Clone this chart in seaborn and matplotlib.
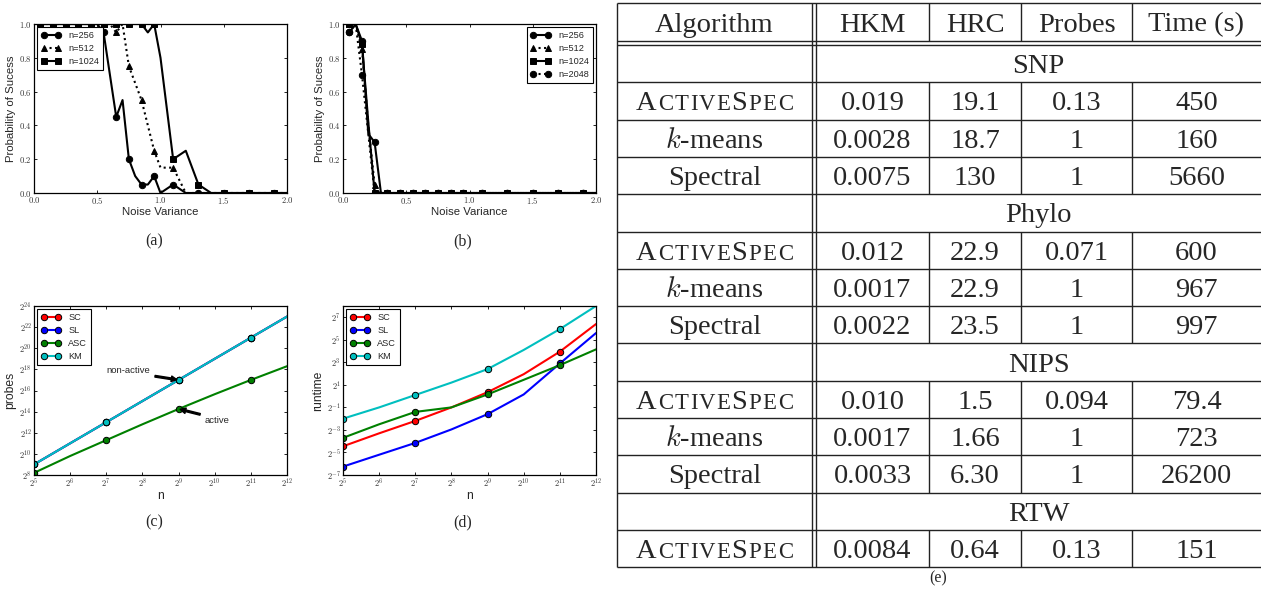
import matplotlib
matplotlib.use("Agg")
import matplotlib.pyplot as plt
from matplotlib.ticker import NullLocator
import seaborn as sns

# -----------------------
# Data: panels (a) and (b), probability of success vs noise variance
# -----------------------
noise_var = [0.05, 0.10, 0.15, 0.20, 0.25, 0.30, 0.35, 0.40, 0.45, 0.50,
             0.55, 0.60, 0.65, 0.70, 0.75, 0.80, 0.85, 0.90, 0.95, 1.00,
             1.1, 1.2, 1.3, 1.4, 1.5, 1.6, 1.7, 1.8, 1.9, 2.0]

a_n256 = [1.0, 1.0, 1.0, 1.0, 1.0, 1.0, 1.0, 1.0, 1.0, 1.0,
          0.95, 0.70, 0.45, 0.55, 0.20, 0.10, 0.05, 0.05, 0.10, 0.0,
          0.05, 0.0, 0.0, 0.0, 0.0, 0.0, 0.0, 0.0, 0.0, 0.0]
a_n512 = [1.0, 1.0, 1.0, 1.0, 1.0, 1.0, 1.0, 1.0, 1.0, 1.0,
          1.0, 1.0, 0.95, 1.0, 0.75, 0.65, 0.55, 0.40, 0.25, 0.15,
          0.15, 0.0, 0.0, 0.0, 0.0, 0.0, 0.0, 0.0, 0.0, 0.0]
a_n1024 = [1.0, 1.0, 1.0, 1.0, 1.0, 1.0, 1.0, 1.0, 1.0, 1.0,
           1.0, 1.0, 1.0, 1.0, 1.0, 1.0, 1.0, 0.95, 1.0, 0.80,
           0.20, 0.25, 0.05, 0.0, 0.0, 0.0, 0.0, 0.0, 0.0, 0.0]

b_n256 = [0.95, 1.0, 0.90, 0.35, 0.30, 0.0, 0.0, 0.0, 0.0, 0.0,
          0.0, 0.0, 0.0, 0.0, 0.0, 0.0, 0.0, 0.0, 0.0, 0.0,
          0.0, 0.0, 0.0, 0.0, 0.0, 0.0, 0.0, 0.0, 0.0, 0.0]
b_n512 = [1.0, 1.0, 0.85, 0.40, 0.05, 0.0, 0.0, 0.0, 0.0, 0.0,
          0.0, 0.0, 0.0, 0.0, 0.0, 0.0, 0.0, 0.0, 0.0, 0.0,
          0.0, 0.0, 0.0, 0.0, 0.0, 0.0, 0.0, 0.0, 0.0, 0.0]
b_n1024 = [1.0, 1.0, 0.88, 0.42, 0.0, 0.0, 0.0, 0.0, 0.0, 0.0,
           0.0, 0.0, 0.0, 0.0, 0.0, 0.0, 0.0, 0.0, 0.0, 0.0,
           0.0, 0.0, 0.0, 0.0, 0.0, 0.0, 0.0, 0.0, 0.0, 0.0]
b_n2048 = [0.95, 1.0, 0.70, 0.35, 0.0, 0.0, 0.0, 0.0, 0.0, 0.0,
           0.0, 0.0, 0.0, 0.0, 0.0, 0.0, 0.0, 0.0, 0.0, 0.0,
           0.0, 0.0, 0.0, 0.0, 0.0, 0.0, 0.0, 0.0, 0.0, 0.0]

# -----------------------
# Data: panels (c) and (d), probes / runtime vs n
# -----------------------
n_sizes = [32, 64, 128, 256, 512, 1024, 2048, 4096]

probes_sc = [512, 2048, 8192, 32768, 131072, 524288, 2097152, 8388608]
probes_sl = [512, 2048, 8192, 32768, 131072, 524288, 2097152, 8388608]
probes_asc = [294, 891, 2521, 7132, 19484, 51403, 131072, 322639]
probes_km = [512, 2048, 8192, 32768, 131072, 524288, 2097152, 8388608]

runtime_sc = [0.0457, 0.1015, 0.2176, 0.50, 1.274, 3.86, 15.45, 84.4]
runtime_sl = [0.0131, 0.0272, 0.0563, 0.129, 0.330, 1.11, 7.46, 48.5]
runtime_asc = [0.0769, 0.177, 0.379, 0.50, 1.11, 2.73, 6.73, 17.75]
runtime_km = [0.25, 0.50, 1.072, 2.30, 5.28, 17.15, 61.8, 256.0]

# -----------------------
# Data: table (e)
# -----------------------
table_cols = ["Algorithm", "HKM", "HRC", "Probes", "Time (s)"]
datasets = ["SNP", "Phylo", "NIPS", "RTW"]
row_dataset = ["SNP", "SNP", "SNP", "Phylo", "Phylo", "Phylo",
               "NIPS", "NIPS", "NIPS", "RTW"]
row_algo = ["ActiveSpec", "k-means", "Spectral", "ActiveSpec", "k-means", "Spectral",
            "ActiveSpec", "k-means", "Spectral", "ActiveSpec"]
row_hkm = ["0.019", "0.0028", "0.0075", "0.012", "0.0017", "0.0022",
           "0.010", "0.0017", "0.0033", "0.0084"]
row_hrc = ["19.1", "18.7", "130", "22.9", "22.9", "23.5", "1.5", "1.66", "6.30", "0.64"]
row_probes = ["0.13", "1", "1", "0.071", "1", "1", "0.094", "1", "1", "0.13"]
row_time = ["450", "160", "5660", "600", "967", "997", "79.4", "723", "26200", "151"]

# -----------------------
# Style
# -----------------------
sns.set_style("ticks")
plt.rcParams.update({
    "font.family": ["Liberation Sans", "DejaVu Sans"],
    "mathtext.fontset": "cm",
    "axes.linewidth": 0.9,
    "axes.edgecolor": "black",
    "xtick.direction": "in",
    "ytick.direction": "in",
    "xtick.top": True,
    "ytick.right": True,
    "xtick.major.size": 2.5,
    "ytick.major.size": 2.5,
    "xtick.major.width": 0.6,
    "ytick.major.width": 0.6,
    "xtick.color": "black",
    "ytick.color": "black",
    "xtick.labelcolor": "#333333",
    "ytick.labelcolor": "#333333",
})

W, H = 1261, 590
fig = plt.figure(figsize=(W / 100, H / 100), dpi=100)


def px_axes(left, top, right, bottom):
    return fig.add_axes([left / W, 1 - bottom / H, (right - left) / W, (bottom - top) / H])


ax_a = px_axes(34, 24, 287, 193)
ax_b = px_axes(343, 24, 596, 193)
ax_c = px_axes(34, 306, 287, 475)
ax_d = px_axes(343, 306, 596, 475)

LABEL_FS = 8.2
TICK_FS = 6.2
LEG_FS = 6.6


def draw_line(ax, x, y, label, color, ls, mk, ms):
    sns.lineplot(x=x, y=y, ax=ax, color=color, linestyle=ls, marker=mk,
                 markersize=ms, markevery=2, markeredgecolor="black",
                 markeredgewidth=0.7, linewidth=1.5, label=label,
                 errorbar=None, sort=False)


def make_legend(ax, loc):
    leg = ax.legend(loc=loc, numpoints=2, fontsize=LEG_FS, fancybox=False,
                    edgecolor="black", framealpha=1, handlelength=2.2,
                    borderpad=0.4, labelspacing=0.45, handletextpad=0.8,
                    borderaxespad=0.35)
    leg.get_frame().set_linewidth(0.8)


def noise_axes(ax):
    ax.set_xlim(0, 2.0)
    ax.set_ylim(0, 1.0)
    xt = [0.0, 0.5, 1.0, 1.5, 2.0]
    yt = [0.0, 0.2, 0.4, 0.6, 0.8, 1.0]
    ax.set_xticks(xt)
    ax.set_xticklabels([f"${v:.1f}$" for v in xt], fontsize=TICK_FS)
    ax.set_yticks(yt)
    ax.set_yticklabels([f"${v:.1f}$" for v in yt], fontsize=TICK_FS)
    ax.tick_params(pad=1.5)
    ax.set_xlabel("Noise Variance", fontsize=LABEL_FS, labelpad=1)
    ax.set_ylabel("Probability of Sucess", fontsize=LABEL_FS, labelpad=2)


# (a)
draw_line(ax_a, noise_var, a_n256, "n=256", "black", "-", "o", 4.6)
draw_line(ax_a, noise_var, a_n512, "n=512", "black", ":", "^", 4.8)
draw_line(ax_a, noise_var, a_n1024, "n=1024", "black", "-", "s", 4.6)
noise_axes(ax_a)
make_legend(ax_a, "upper left")

# (b)
draw_line(ax_b, noise_var, b_n256, "n=256", "black", "-", "o", 4.6)
draw_line(ax_b, noise_var, b_n512, "n=512", "black", ":", "^", 4.8)
draw_line(ax_b, noise_var, b_n1024, "n=1024", "black", "-", "s", 4.6)
draw_line(ax_b, noise_var, b_n2048, "n=2048", "black", ":", "o", 4.6)
noise_axes(ax_b)
make_legend(ax_b, "upper right")


def size_axes(ax, ylabel, ylo, yhi, ystep):
    ax.set_xscale("log", base=2)
    ax.set_yscale("log", base=2)
    ax.set_xlim(2 ** 5, 2 ** 12)
    ax.set_ylim(2.0 ** ylo, 2.0 ** yhi)
    xk = list(range(5, 13))
    yk = list(range(ylo, yhi + 1, ystep))
    ax.set_xticks([2 ** k for k in xk])
    ax.set_xticklabels([f"$2^{{{k}}}$" for k in xk], fontsize=TICK_FS)
    ax.set_yticks([2.0 ** k for k in yk])
    ax.set_yticklabels([f"$2^{{{k}}}$" for k in yk], fontsize=TICK_FS)
    ax.xaxis.set_minor_locator(NullLocator())
    ax.yaxis.set_minor_locator(NullLocator())
    ax.tick_params(pad=1.5)
    ax.set_xlabel("n", fontsize=LABEL_FS + 0.5, labelpad=0)
    ax.set_ylabel(ylabel, fontsize=LABEL_FS + 0.5, labelpad=2)


colors = {"SC": "#ff0000", "SL": "#0000ff", "ASC": "#008000", "KM": "#00bfbf"}

# (c)
draw_line(ax_c, n_sizes, probes_sc, "SC", colors["SC"], "-", "o", 4.6)
draw_line(ax_c, n_sizes, probes_sl, "SL", colors["SL"], "-", "o", 4.6)
draw_line(ax_c, n_sizes, probes_asc, "ASC", colors["ASC"], "-", "o", 4.6)
draw_line(ax_c, n_sizes, probes_km, "KM", colors["KM"], "-", "o", 4.6)
size_axes(ax_c, "probes", 8, 24, 2)
make_legend(ax_c, "upper left")
arrow = dict(facecolor="black", edgecolor="black", width=1.2, headwidth=4,
             headlength=4, shrink=0.06)
ax_c.annotate("non-active", xy=(2 ** 9, probes_km[4]), xytext=(2 ** 7.0, 2 ** 17.85),
              fontsize=6.8, va="center", arrowprops=arrow)
ax_c.annotate("active", xy=(2 ** 9, probes_asc[4]), xytext=(2 ** 9.73, 2 ** 13.2),
              fontsize=6.8, va="center", arrowprops=arrow)

# (d)
draw_line(ax_d, n_sizes, runtime_sc, "SC", colors["SC"], "-", "o", 4.6)
draw_line(ax_d, n_sizes, runtime_sl, "SL", colors["SL"], "-", "o", 4.6)
draw_line(ax_d, n_sizes, runtime_asc, "ASC", colors["ASC"], "-", "o", 4.6)
draw_line(ax_d, n_sizes, runtime_km, "KM", colors["KM"], "-", "o", 4.6)
size_axes(ax_d, "runtime", -7, 8, 2)
ax_d.set_yticks([2.0 ** k for k in range(-7, 8, 2)])
ax_d.set_yticklabels([f"$2^{{{k}}}$" for k in range(-7, 8, 2)], fontsize=TICK_FS)
ax_d.yaxis.set_minor_locator(NullLocator())
make_legend(ax_d, "upper left")

# -----------------------
# Overlay in pixel coordinates: captions and table (e)
# -----------------------
ax_t = fig.add_axes([0, 0, 1, 1])
ax_t.set_xlim(0, W)
ax_t.set_ylim(H, 0)
ax_t.axis("off")

SERIF = ["Liberation Serif", "DejaVu Serif"]
for cap, (cx, cy) in zip(["(a)", "(b)", "(c)", "(d)", "(e)"],
                         [(154, 241), (463, 241), (154, 522), (463, 522), (938, 578)]):
    ax_t.text(cx, cy, cap, ha="center", va="center", fontsize=11.5, family=SERIF)

TABLE_FS = 20.5
LINE_C = "#222222"
LINE_W = 1.0
x_left, x_dbl1, x_dbl2, x_right = 617, 812, 816, 1261
col_edges = [x_dbl2, 929, 1021, 1132, x_right]
y_top, y_hdr1, y_hdr2 = 3, 41, 45
row_h = 37.3
base_off = 9.5


def hline(y, x0=x_left, x1=x_right):
    ax_t.plot([x0, x1], [y, y], color=LINE_C, lw=LINE_W, solid_capstyle="butt")


def vline(x, y0, y1):
    ax_t.plot([x, x], [y0, y1], color=LINE_C, lw=LINE_W, solid_capstyle="butt")


renderer = fig.canvas.get_renderer()


def small_caps(word, xc, yc):
    # ACTIVESPEC style: capitals full size, lower case as smaller capitals
    parts = []
    for ch in word:
        size = TABLE_FS if ch.isupper() else TABLE_FS * 0.8
        parts.append(ax_t.text(0, yc + base_off, ch.upper(), ha="left", va="baseline",
                               fontsize=size, family=SERIF))
    widths = [t.get_window_extent(renderer).width for t in parts]
    gap = 1.3
    total = sum(widths) + gap * (len(parts) - 1)
    x = xc - total / 2
    for t, w in zip(parts, widths):
        t.set_x(x)
        x += w + gap


def cell(s, xc, yc):
    ax_t.text(xc, yc + base_off, s, ha="center", va="baseline", fontsize=TABLE_FS,
              family=SERIF)


def algo_cell(name, xc, yc):
    if name == "ActiveSpec":
        small_caps(name, xc, yc)
    elif name == "k-means":
        cell("$k$-means", xc, yc)
    else:
        cell(name, xc, yc)


first_col_c = (x_left + x_dbl1) / 2
col_centers = [first_col_c] + [(col_edges[i] + col_edges[i + 1]) / 2 for i in range(4)]

# header row
hline(y_top)
hline(y_hdr1)
hline(y_hdr2)
for name, xc in zip(table_cols, col_centers):
    cell(name, xc, (y_top + y_hdr1) / 2)
for xe in col_edges[1:4]:
    vline(xe, y_top, y_hdr1)

# body rows
y = y_hdr2
for ds in datasets:
    cell(ds, (x_dbl2 + x_right) / 2, y + row_h / 2)
    y += row_h
    hline(y)
    for i, d in enumerate(row_dataset):
        if d != ds:
            continue
        yc = y + row_h / 2
        algo_cell(row_algo[i], col_centers[0], yc)
        for s, xc in zip([row_hkm[i], row_hrc[i], row_probes[i], row_time[i]], col_centers[1:]):
            cell(s, xc, yc)
        for xe in col_edges[1:4]:
            vline(xe, y, y + row_h)
        y += row_h
        hline(y)
y_bottom = y

vline(x_left, y_top, y_bottom)
vline(x_dbl1, y_top, y_bottom)
vline(x_dbl2, y_top, y_bottom)

fig.savefig("out.png", dpi=100)
